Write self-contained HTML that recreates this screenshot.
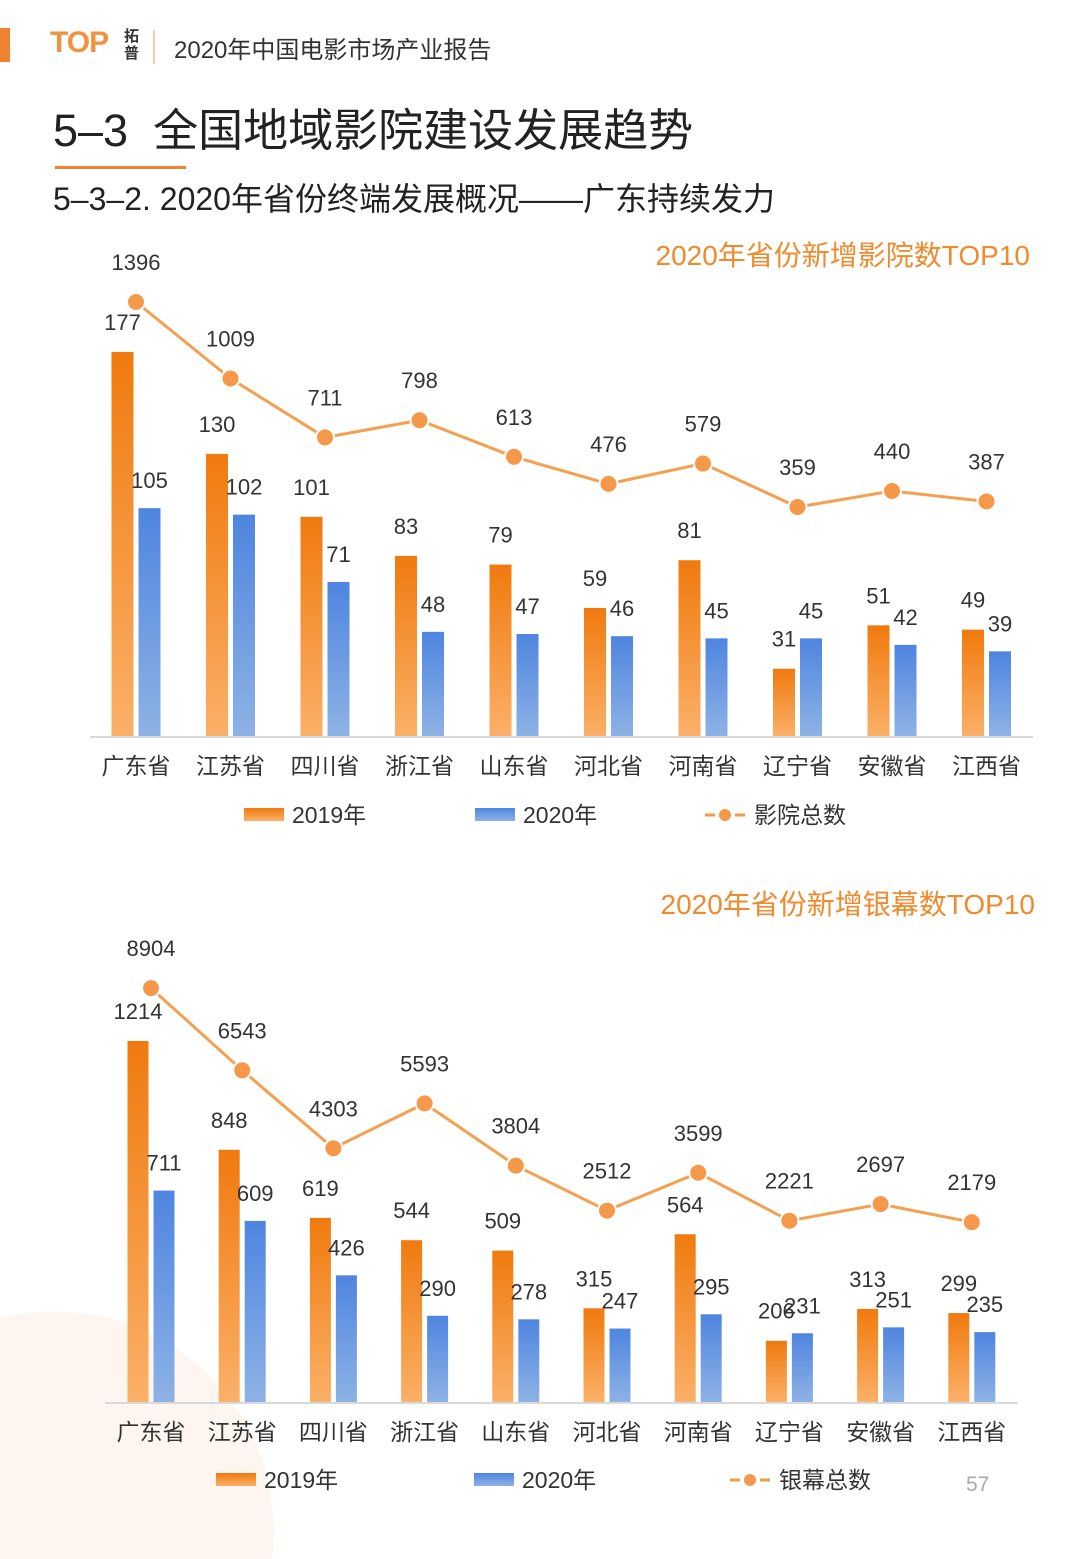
<!DOCTYPE html>
<html><head><meta charset="utf-8">
<style>
html,body{margin:0;padding:0;background:#fff;width:1080px;height:1559px;overflow:hidden;}
body{font-family:"Liberation Sans","Noto Sans CJK SC",sans-serif;color:#222;}
#page{position:relative;width:1080px;height:1559px;overflow:hidden;}
.abs{position:absolute;white-space:nowrap;}
</style></head>
<body>
<div id="page">
<svg id="chart" width="1080" height="1559" style="position:absolute;left:0;top:0;">
<defs>
<linearGradient id="go" x1="0" y1="0" x2="0" y2="1"><stop offset="0" stop-color="#f07a0e"/><stop offset="1" stop-color="#fbb068"/></linearGradient>
<linearGradient id="gb" x1="0" y1="0" x2="0" y2="1"><stop offset="0" stop-color="#4f85e0"/><stop offset="1" stop-color="#8db2e5"/></linearGradient>
</defs>
<path d="M0,1318 A220,220 0 0 1 272,1559 L0,1559 Z" fill="#fdf6f0"/>
</svg>
<div class="abs" style="left:0;top:28px;width:10px;height:34px;background:#ef8231;"></div>
<div class="abs" style="left:50px;top:26px;font-size:30px;font-weight:bold;color:#f2913f;letter-spacing:-1px;">TOP</div>
<div class="abs" style="left:124px;top:28px;font-size:15px;line-height:17px;font-weight:bold;color:#333;width:18px;white-space:normal;">拓普</div>
<div class="abs" style="left:153px;top:30px;width:2px;height:34px;background:#f3c9a6;"></div>
<div class="abs" style="left:174px;top:30px;font-size:24px;color:#333;">2020年中国电影市场产业报告</div>
<div class="abs" style="left:53px;top:94px;font-size:45px;color:#222;">5–3&nbsp;&nbsp;全国地域影院建设发展趋势</div>
<div class="abs" style="left:55px;top:166px;width:131px;height:3px;background:#ef8231;"></div>
<div class="abs" style="left:53px;top:174px;font-size:32px;color:#222;">5–3–2. 2020年省份终端发展概况——广东持续发力</div>
<div class="abs" style="right:50px;top:234px;font-size:28px;color:#f08a2c;">2020年省份新增影院数TOP10</div>
<div class="abs" style="right:45px;top:883px;font-size:28px;color:#f08a2c;">2020年省份新增银幕数TOP10</div>
<div class="abs" style="left:966px;top:1473px;font-size:21px;color:#aaa;">57</div>
</div>

<script>
const categories = ["广东省","江苏省","四川省","浙江省","山东省","河北省","河南省","辽宁省","安徽省","江西省"];
const cinema2019 = [177,130,101,83,79,59,81,31,51,49];
const cinema2020 = [105,102,71,48,47,46,45,45,42,39];
const cinemaTotal = [1396,1009,711,798,613,476,579,359,440,387];
const screen2019 = [1214,848,619,544,509,315,564,206,313,299];
const screen2020 = [711,609,426,290,278,247,295,231,251,235];
const screenTotal = [8904,6543,4303,5593,3804,2512,3599,2221,2697,2179];
const legend1 = ["2019年","2020年","影院总数"];
const legend2 = ["2019年","2020年","银幕总数"];

const NS="http://www.w3.org/2000/svg";
const svg=document.getElementById('chart');
function mk(tag,attrs,parent){const e=document.createElementNS(NS,tag);for(const k in attrs)e.setAttribute(k,attrs[k]);(parent||svg).appendChild(e);return e;}
function txt(x,y,s,size,fill,anchor){const t=mk('text',{x:x,y:y,'font-size':size,fill:fill,'text-anchor':anchor||'middle','font-family':'"Liberation Sans","Noto Sans CJK SC",sans-serif'});t.textContent=s;return t;}

function drawChart(cfg){
  const g=mk('g',{});
  
  
  const xC=i=>cfg.x0+i*cfg.step;
  const yBar=v=>cfg.base-v*cfg.barScale;
  const yLine=v=>cfg.lineZero-v*cfg.lineScale;
  const ax=mk('line',{x1:cfg.axL,x2:cfg.axR,y1:cfg.base+1,y2:cfg.base+1,stroke:'#d9d9d9','stroke-width':2},g);
  
  
  categories.forEach((c,i)=>{
    const cx=xC(i);
    const ox=cx-cfg.bw-cfg.gap/2, bx=cx+cfg.gap/2;
    const r1=mk('rect',{x:ox,y:yBar(cfg.a[i]),width:cfg.bw,height:cfg.a[i]*cfg.barScale,fill:'url(#go)'},g);
    
    
    const r2=mk('rect',{x:bx,y:yBar(cfg.b[i]),width:cfg.bw,height:cfg.b[i]*cfg.barScale,fill:'url(#gb)'},g);
    
    
    const l1=txt(ox+cfg.bw/2,yBar(cfg.a[i])-22,String(cfg.a[i]),22,'#333');
    
    
    g.appendChild(l1);
    const l2=txt(bx+cfg.bw/2,yBar(cfg.b[i])-20,String(cfg.b[i]),22,'#333');
    
    
    g.appendChild(l2);
    const cl=txt(cx,cfg.base+38,c,23,'#333');
    
    
    g.appendChild(cl);
  });
  const pts=cfg.t.map((v,i)=>xC(i)+','+yLine(v)).join(' ');
  const pl=mk('polyline',{points:pts,fill:'none',stroke:'#f5a050','stroke-width':3},g);
  
  
  cfg.t.forEach((v,i)=>{
    const c=mk('circle',{cx:xC(i),cy:yLine(v),r:9,fill:'#f5984a',stroke:'#fff','stroke-width':2},g);
    
    
    const tl=txt(xC(i),yLine(v)-32,String(v),22,'#333');
    
    
    g.appendChild(tl);
  });
  const L=cfg.leg;
  const s1=mk('rect',{x:L[0],y:cfg.ly-7,width:40,height:13,fill:'url(#go)'},g);
  
  
  const t1=txt(L[0]+48,cfg.ly+8,cfg.lt[0],23,'#333','start');
  
  
  g.appendChild(t1);
  const s2=mk('rect',{x:L[1],y:cfg.ly-7,width:40,height:13,fill:'url(#gb)'},g);
  
  
  const t2=txt(L[1]+48,cfg.ly+8,cfg.lt[1],23,'#333','start');
  
  
  g.appendChild(t2);
  const s3=mk('line',{x1:L[2],x2:L[2]+40,y1:cfg.ly,y2:cfg.ly,stroke:'#f5984a','stroke-width':3,'stroke-dasharray':'10,5'},g);
  
  
  const s4=mk('circle',{cx:L[2]+20,cy:cfg.ly,r:6,fill:'#f5984a'},g);
  
  
  const t3=txt(L[2]+49,cfg.ly+8,cfg.lt[2],23,'#333','start');
  
  
  g.appendChild(t3);
}

drawChart({name:'cinema-chart',a:cinema2019,b:cinema2020,t:cinemaTotal,x0:136,step:94.5,base:736,barScale:2.17,lineZero:578,lineScale:0.1977,bw:22,gap:5,axL:90,axR:1033,leg:[244,475,705],ly:815,lt:legend1});
drawChart({name:'screen-chart',a:screen2019,b:screen2020,t:screenTotal,x0:151,step:91.2,base:1402,barScale:0.2974,lineZero:1298,lineScale:0.0348,bw:21,gap:5,axL:105,axR:1018,leg:[216,474,730],ly:1480,lt:legend2});
</script>
</body></html>
